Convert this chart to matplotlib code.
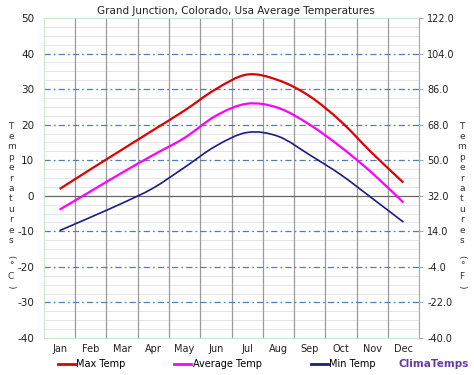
import matplotlib
matplotlib.use("Agg")
import matplotlib.pyplot as plt
from matplotlib.path import Path
from matplotlib.patches import PathPatch
import numpy as np

plt.rcParams['font.family'] = ['DejaVu Sans']
plt.rcParams['lines.scale_dashes'] = False

months = ["Jan", "Feb", "Mar", "Apr", "May", "Jun", "Jul", "Aug", "Sep", "Oct", "Nov", "Dec"]
max_temp = [1.9, 7.5, 13.0, 18.5, 24.0, 30.0, 34.1, 32.5, 28.0, 20.9, 12.0, 3.7]
avg_temp = [-3.9, 1.3, 6.5, 11.5, 16.3, 22.5, 25.9, 24.7, 20.0, 13.7, 6.4, -1.9]
min_temp = [-9.8, -6.0, -2.1, 2.2, 8.0, 14.0, 17.8, 16.7, 11.5, 5.9, -0.7, -7.4]
c_ticks = [-40, -30, -20, -10, 0, 10, 20, 30, 40, 50]
f_ticks = [-40.0, -22.0, -4.0, 14.0, 32.0, 50.0, 68.0, 86.0, 104.0, 122.0]
title = "Grand Junction, Colorado, Usa Average Temperatures"

series = [("Max Temp", max_temp, "#e00000", 1.6),
          ("Average Temp", avg_temp, "#ff00ff", 1.6),
          ("Min Temp", min_temp, "#1c1c80", 1.2)]

fig = plt.figure(figsize=(4.74, 3.75), dpi=100)
ax = fig.add_axes([0.0928, 0.0987, 0.7912, 0.8533])
ax.set_xlim(0, 12)
ax.set_ylim(-40, 50)

# minor horizontal grid
for v in np.arange(-40, 50.01, 2.5):
    if v % 10 != 0:
        ax.axhline(v, color="#e2e4ea", lw=0.7, zorder=1)
for v in c_ticks:
    if v not in (0, -40, 50):
        ax.axhline(v, color="#4f7fb8", lw=0.9, linestyle=(0, (4.5, 2.2, 1.3, 2.2)), zorder=2)
ax.axhline(0, color="#666666", lw=0.9, zorder=2)
for m in range(1, 12):
    ax.axvline(m, color="#999999", lw=0.9, zorder=1)

xs = np.arange(len(months)) + 0.5


def smooth_path(x, y):
    pts = np.column_stack([x, y])
    verts = [pts[0]]
    codes = [Path.MOVETO]
    n = len(pts)
    for i in range(n - 1):
        p0 = pts[i - 1] if i > 0 else pts[i]
        p1 = pts[i]
        p2 = pts[i + 1]
        p3 = pts[i + 2] if i + 2 < n else pts[i + 1]
        c1 = p1 + (p2 - p0) / 6.0
        c2 = p2 - (p3 - p1) / 6.0
        verts += [c1, c2, p2]
        codes += [Path.CURVE4] * 3
    return Path(verts, codes)


handles = []
for name, vals, col, lw in series:
    patch = PathPatch(smooth_path(xs, np.array(vals, float)), facecolor="none",
                      edgecolor=col, lw=lw, zorder=4, capstyle="butt")
    ax.add_patch(patch)
    h, = ax.plot([], [], color=col, lw=2.0, label=name)
    handles.append(h)

ax.set_xticks(xs)
ax.set_xticklabels(months, fontsize=7, color="#222222")
ax.set_yticks(c_ticks)
ax.set_yticklabels([str(v) for v in c_ticks], fontsize=7.5, color="#222222")
ax.tick_params(axis="x", length=0, pad=4)
ax.tick_params(axis="y", length=0, pad=7)
for s in ("top", "left", "bottom"):
    ax.spines[s].set_color("#c9e8c9")
    ax.spines[s].set_linewidth(0.8)
ax.spines["right"].set_color("#aaaaaa")

ax2 = ax.twinx()
ax2.set_ylim(-40, 122)
ax2.set_yticks(f_ticks)
ax2.set_yticklabels([f"{v:.1f}" for v in f_ticks], fontsize=7, color="#222222")
ax2.tick_params(axis="y", length=3, color="#aaaaaa", pad=3)
for s in ("top", "left", "bottom"):
    ax2.spines[s].set_visible(False)
ax2.spines["right"].set_color("#aaaaaa")

fig.text(0.498, 0.972, title, ha="center", va="center", fontsize=7.5, color="#222222")

# stacked axis labels
def stacked(x, chars):
    y = 1 - 126 / 375
    step = 10.4 / 375
    for ch in chars:
        if ch == "":
            y -= step * 0.6
        elif ch in "()":
            fig.text(x, y, ch, ha="center", va="center", fontsize=6.5,
                     color="#333333", rotation=-90)
            y -= step * 0.85
        else:
            fig.text(x, y, ch, ha="center", va="center", fontsize=6.5, color="#333333")
            y -= step
    return y

word = list("Temperatures")
stacked(11 / 474, word + ["", "(", "°", "C", ")"])
stacked(462 / 474, word + ["", "(", "°", "F", ")"])

ax.legend(handles=handles, loc="center left", bbox_to_anchor=(58 / 474, 11 / 375),
          bbox_transform=fig.transFigure, ncol=3, frameon=False, fontsize=7,
          handlelength=1.75, handletextpad=0.15, columnspacing=5.0, borderpad=0,
          borderaxespad=0)
fig.text(434 / 474, 11 / 375, "ClimaTemps", ha="center", va="center",
         fontsize=7.5, fontweight="bold", color="#6b3aa8")

fig.savefig("out.png", dpi=100)
